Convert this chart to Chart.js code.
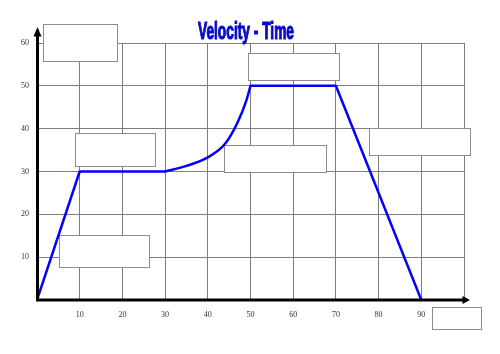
<!DOCTYPE html>
<html>
<head>
<meta charset="utf-8">
<script src="https://cdn.jsdelivr.net/npm/chart.js@4/dist/chart.umd.min.js"></script>
<style>
html,body{margin:0;padding:0;background:#fff;}
#wrap{width:500px;height:354px;position:relative;}
</style>
</head>
<body>
<div id="wrap"><canvas id="c" width="500" height="354"></canvas></div>
<script>
// ---- data ----
const chartTitle = 'Velocity - Time';
// straight phases
const riseTimes = [0, 10, 30];
const riseVelocities = [0, 30, 30];
// accelerating curve
const curveTimes =      [30, 35, 40, 44, 47, 49, 50];
const curveVelocities = [30, 31.3, 33.3, 36.4, 41.5, 46.5, 50];
// constant then deceleration
const fallTimes = [50, 70, 90];
const fallVelocities = [50, 50, 0];
const xTickLabels = [10, 20, 30, 40, 50, 60, 70, 80, 90];
const yTickLabels = [10, 20, 30, 40, 50, 60];
// empty answer boxes (in axis units: xFrom, xTo, yTop, yBottom)
const answerBoxes = [
  [1.33, 18.8, 64.4, 55.7],
  [49.5, 70.8, 57.6, 51.4],
  [8.9, 27.6, 38.9, 31.4],
  [43.9, 67.7, 36.1, 29.9],
  [77.7, 101.4, 40.1, 33.9],
  [5.1, 26.3, 15.2, 7.6],
  [92.6, 103.9, -1.7, -6.8]
];

const toPts = (xs, ys) => xs.map((t, i) => ({x: t, y: ys[i]}));
const lineStyle = {
  borderColor: '#0000ff', borderWidth: 2.5, pointRadius: 0, fill: false,
  borderJoinStyle: 'round', borderCapStyle: 'round'
};

const boxesPlugin = {
  id: 'boxes',
  beforeDatasetsDraw(chart) {
    const ctx = chart.ctx, xs = chart.scales.x, ys = chart.scales.y;
    ctx.save();
    ctx.fillStyle = '#ffffff';
    ctx.strokeStyle = '#8c8c8c';
    ctx.lineWidth = 1;
    answerBoxes.forEach(b => {
      const x0 = Math.round(xs.getPixelForValue(b[0])) + 0.5;
      const x1 = Math.round(xs.getPixelForValue(b[1])) + 0.5;
      const y0 = Math.round(ys.getPixelForValue(b[2])) + 0.5;
      const y1 = Math.round(ys.getPixelForValue(b[3])) + 0.5;
      ctx.fillRect(x0, y0, x1 - x0, y1 - y0);
      ctx.strokeRect(x0, y0, x1 - x0, y1 - y0);
    });
    ctx.restore();
  }
};

const axesPlugin = {
  id: 'axesArrows',
  afterDatasetsDraw(chart) {
    const ctx = chart.ctx, a = chart.chartArea;
    const ox = a.left + 0.5, oy = a.bottom;
    ctx.save();
    ctx.strokeStyle = '#000';
    ctx.fillStyle = '#000';
    ctx.lineWidth = 3;
    ctx.lineCap = 'butt';
    ctx.beginPath();
    ctx.moveTo(ox, oy + 1.5);
    ctx.lineTo(ox, 34);
    ctx.moveTo(ox - 1.5, oy);
    ctx.lineTo(a.right + 1, oy);
    ctx.stroke();
    ctx.beginPath();
    ctx.moveTo(ox, 27);
    ctx.lineTo(ox - 4, 36.5);
    ctx.lineTo(ox + 4, 36.5);
    ctx.closePath();
    ctx.fill();
    ctx.beginPath();
    ctx.moveTo(470, oy);
    ctx.lineTo(462.5, oy - 4);
    ctx.lineTo(462.5, oy + 4);
    ctx.closePath();
    ctx.fill();
    ctx.restore();
  }
};

const titlePlugin = {
  id: 'squeezedTitle',
  afterDraw(chart) {
    const ctx = chart.ctx;
    ctx.save();
    ctx.font = 'bold 22px "Liberation Sans Narrow", "Liberation Sans", sans-serif';
    const w = ctx.measureText(chartTitle).width;
    const sx = 96 / w;
    ctx.translate(246, 38.5);
    ctx.scale(sx, 1.05);
    ctx.fillStyle = '#0808c8';
    ctx.textAlign = 'center';
    ctx.textBaseline = 'alphabetic';
    ctx.lineWidth = 1.1;
    ctx.strokeStyle = '#0808c8';
    ctx.strokeText(chartTitle, 0, 0);
    ctx.fillText(chartTitle, 0, 0);
    ctx.restore();
  }
};

new Chart(document.getElementById('c'), {
  type: 'line',
  data: {
    datasets: [
      Object.assign({data: toPts(riseTimes, riseVelocities), tension: 0}, lineStyle),
      Object.assign({data: toPts(curveTimes, curveVelocities), cubicInterpolationMode: 'monotone'}, lineStyle),
      Object.assign({data: toPts(fallTimes, fallVelocities), tension: 0}, lineStyle)
    ]
  },
  options: {
    responsive: false,
    animation: false,
    events: [],
    layout: {padding: {left: 0, right: 36, top: 43, bottom: 0}},
    plugins: {legend: {display: false}, tooltip: {enabled: false}, title: {display: false}},
    scales: {
      x: {
        type: 'linear', min: 0, max: 100,
        afterFit(s) { s.height = 54; },
        border: {display: false},
        grid: {color: '#7d7d7d', lineWidth: 1, drawTicks: false},
        ticks: {
          stepSize: 10, autoSkip: false, maxRotation: 0, padding: 10,
          color: '#333', font: {family: '"Liberation Serif", serif', size: 8},
          callback: v => xTickLabels.includes(v) ? String(v) : ''
        }
      },
      y: {
        type: 'linear', min: 0, max: 60,
        afterFit(s) { s.width = 37; },
        border: {display: false},
        grid: {color: '#7d7d7d', lineWidth: 1, drawTicks: false},
        ticks: {
          stepSize: 10, autoSkip: false, padding: 8,
          color: '#333', font: {family: '"Liberation Serif", serif', size: 8},
          callback: v => yTickLabels.includes(v) ? String(v) : ''
        }
      }
    }
  },
  plugins: [boxesPlugin, axesPlugin, titlePlugin]
});
</script>
</body>
</html>
